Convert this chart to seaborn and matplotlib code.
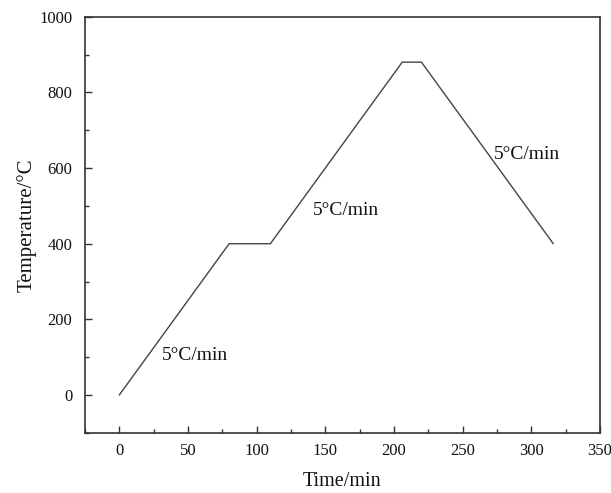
import matplotlib
matplotlib.use("Agg")
import matplotlib.pyplot as plt
import seaborn as sns
import pandas as pd
from matplotlib.ticker import MultipleLocator

time_min = [0, 80, 110, 206, 220, 316]
temperature = [0, 400, 400, 880, 880, 400]
labels = ["5°C/min", "5°C/min", "5°C/min"]
label_x = [31, 141, 273]
label_y = [104, 488, 635]

sns.set_theme(style="ticks")
plt.rcParams['font.family'] = ['Liberation Serif', 'DejaVu Serif']

df = pd.DataFrame({"Time": time_min, "Temp": temperature})

fig = plt.figure(figsize=(6.11, 4.93), dpi=100)
ax = fig.add_axes([0.139, 0.122, 0.843, 0.844])
sns.lineplot(data=df, x="Time", y="Temp", ax=ax, color="#444444", linewidth=1.0, sort=False)

for t, x, y in zip(labels, label_x, label_y):
    ax.text(x, y, t, fontsize=14, color="#111111", ha="left", va="center")

ax.set_xlim(-25, 350)
ax.set_ylim(-100, 1000)
ax.xaxis.set_major_locator(MultipleLocator(50))
ax.xaxis.set_minor_locator(MultipleLocator(25))
ax.yaxis.set_major_locator(MultipleLocator(200))
ax.yaxis.set_minor_locator(MultipleLocator(100))
ax.tick_params(which="major", direction="in", length=5, width=1, color="#333333", labelsize=12, labelcolor="#111111")
ax.tick_params(which="minor", direction="in", length=3, width=1, color="#333333")
ax.tick_params(axis="x", which="major", pad=7)
ax.tick_params(axis="y", which="major", pad=9)
ax.tick_params(top=False, right=False, which="both")
for s in ax.spines.values():
    s.set_color("#333333")
    s.set_linewidth(1.2)
ax.set_xlabel("Time/min", fontsize=14.5, color="#111111", labelpad=10)
ax.set_ylabel("Temperature/°C", fontsize=15, color="#111111", labelpad=2)

fig.savefig("out.png", dpi=100)
